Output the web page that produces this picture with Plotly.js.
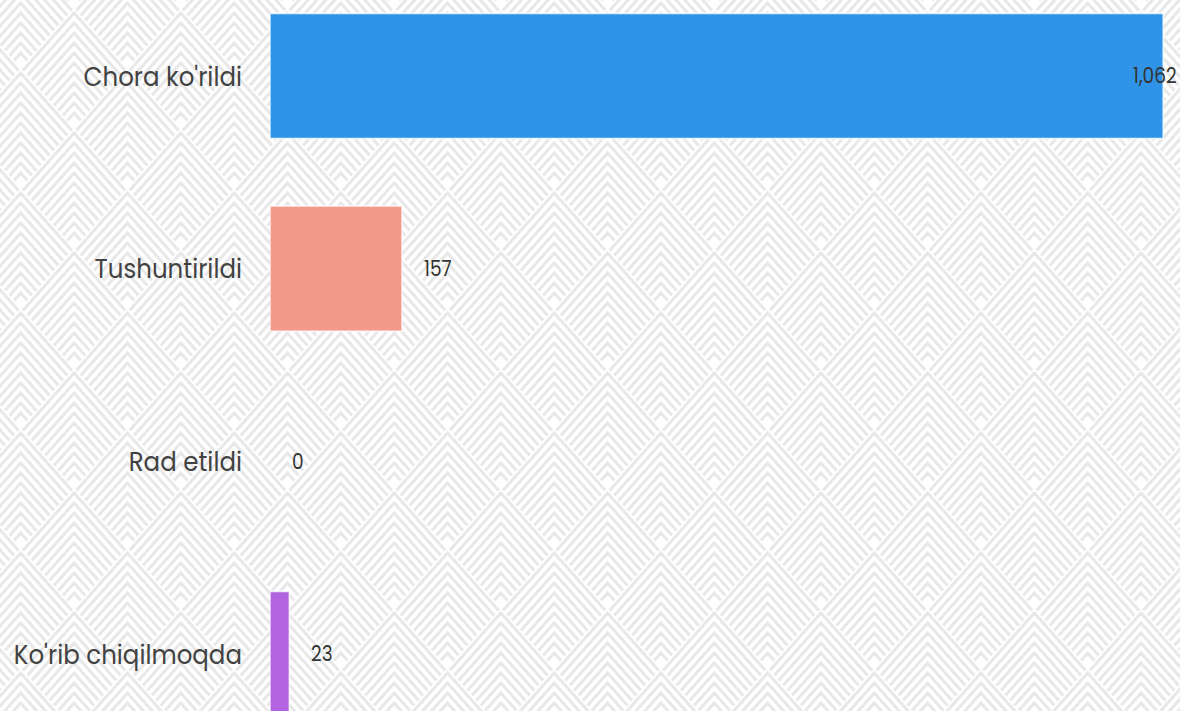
<!DOCTYPE html>
<html>
<head>
<meta charset="utf-8">
<script src="https://cdn.plot.ly/plotly-3.0.1.min.js"></script>
<style>
  html, body { margin: 0; padding: 0; background: #ffffff; overflow: hidden; }
  #wrap { position: relative; width: 1180px; height: 711px; overflow: hidden; }
  #bg { position: absolute; left: 0; top: 0; }
  #chart { position: absolute; left: 0; top: 0; width: 1180px; height: 632px;
           transform: scaleY(1.125); transform-origin: 0 0; }
</style>
</head>
<body>
<div id="wrap">
  <svg id="bg" width="1180" height="711" xmlns="http://www.w3.org/2000/svg"></svg>
  <div id="chart"></div>
</div>
<script>
// ---- data ----
const categories = ["Chora ko'rildi", "Tushuntirildi", "Rad etildi", "Ko'rib chiqilmoqda"];
const values = [1062, 157, 0, 23];
const barColors = ["#2f93e7", "#f49a8b", "#e86a6a", "#b263e0"];

// ---- decorative chevron background (page decoration, not data) ----
(function drawBackground() {
  const svg = document.getElementById('bg');
  const W = 53.35, H = 60;          // half width / half height of a diamond cell
  const x0 = 20.7, y0 = 428;        // one diamond top vertex
  const step = 10;                   // vertical spacing of nested chevrons
  const s = H / W;
  let d = '';
  for (let j = -12; j <= 14; j++) {
    const top = y0 + j * H;
    const off = (Math.abs(j) % 2 === 0) ? 0 : W;
    for (let i = -2; i <= 14; i++) {
      const cx = x0 + off + i * 2 * W;
      if (cx < -W * 2 || cx > 1180 + W * 2 || top > 720 || top + 2 * H < -10) continue;
      for (let t = step / 2; t < 2 * H - 12; t += step) {
        const v = (2 * H - t) / (2 * s);
        const ay = top + t;
        d += 'M' + (cx - v).toFixed(2) + ' ' + (ay + v * s).toFixed(2) +
             'L' + cx.toFixed(2) + ' ' + ay.toFixed(2) +
             'L' + (cx + v).toFixed(2) + ' ' + (ay + v * s).toFixed(2);
      }
    }
  }
  const p = document.createElementNS('http://www.w3.org/2000/svg', 'path');
  p.setAttribute('d', d);
  p.setAttribute('fill', 'none');
  p.setAttribute('stroke', '#e8e8e8');
  p.setAttribute('stroke-width', '3.1');
  svg.appendChild(p);
})();

// ---- chart ----
const maxVal = Math.max.apply(null, values);
const annotations = values.map((v, i) => {
  const isMax = v === maxVal;
  return {
    x: v, y: categories[i], xref: 'x', yref: 'y',
    text: v.toLocaleString('en-US'),
    showarrow: false,
    xanchor: isMax ? 'right' : 'left',
    xshift: isMax ? 16 : 20,
    font: { family: 'Poppins, "Open Sans", sans-serif', size: 18.5, weight: 400, color: '#333333' }
  };
});

const trace = {
  type: 'bar',
  orientation: 'h',
  x: values,
  y: categories,
  marker: {
    color: barColors,
    line: { color: 'rgba(255,255,255,0.8)', width: values.map(v => v > 0 ? 1.5 : 0) }
  },
  width: 0.65,
  hoverinfo: 'none',
  cliponaxis: true
};

const layout = {
  width: 1180, height: 632,
  margin: { l: 270, r: 0, t: 0, b: 0, pad: 0 },
  paper_bgcolor: 'rgba(0,0,0,0)',
  plot_bgcolor: 'rgba(0,0,0,0)',
  showlegend: false,
  xaxis: { range: [0, 1082], visible: false, showgrid: false, zeroline: false, fixedrange: true },
  yaxis: {
    type: 'category',
    range: [3.296, -0.394],
    showgrid: false, zeroline: false, showline: false,
    ticks: '', ticklabelstandoff: 27,
    tickfont: { family: 'Poppins, "Open Sans", sans-serif', size: 24.5, weight: 400, color: '#424242' },
    automargin: false, fixedrange: true
  },
  annotations: annotations,
  font: { family: 'Poppins, "Open Sans", sans-serif' }
};

Plotly.newPlot('chart', [trace], layout, { displayModeBar: false, staticPlot: true });
</script>
</body>
</html>
